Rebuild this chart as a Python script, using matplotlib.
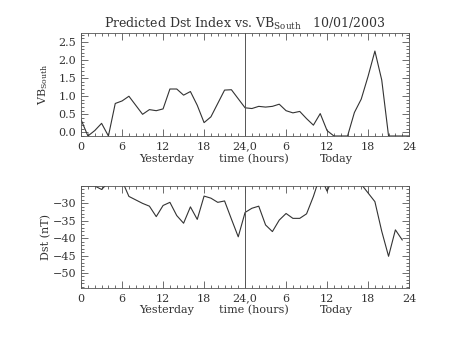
import matplotlib
matplotlib.use("Agg")
import matplotlib.pyplot as plt
import numpy as np
from matplotlib.ticker import MultipleLocator, FixedLocator

plt.rcParams['font.family'] = ['DejaVu Serif']
plt.rcParams['mathtext.fontset'] = 'dejavuserif'

# Hours over two days (0..48)
hours_vb = list(range(49))
vb_south = [0.35, -0.1, 0.05, 0.25, -0.1, 0.8, 0.87, 1.0, 0.75, 0.5, 0.63, 0.6, 0.65,
            1.2, 1.2, 1.03, 1.13, 0.75, 0.27, 0.43, 0.8, 1.17, 1.18, 0.93, 0.68,
            0.66, 0.72, 0.7, 0.72, 0.78, 0.6, 0.54, 0.58, 0.38, 0.2, 0.52, 0.05,
            -0.1, -0.1, -0.1, 0.55, 0.92, 1.55, 2.25, 1.45, -0.1, -0.1, -0.1, -0.1]

hours_dst = list(range(48))
dst = [-25.0, -25.0, -25.0, -26.0, -24.0, -22.0, -23.5, -28.0, -29.0, -30.0, -30.8, -33.8,
       -30.6, -29.7, -33.5, -35.7, -31.0, -34.6, -27.9, -28.5, -29.7, -29.3, -34.5, -39.6,
       -32.6, -31.4, -30.8, -36.2, -38.1, -34.8, -32.9, -34.3, -34.3, -33.0, -28.0, -22.0,
       -26.5, -22.0, -21.0, -21.0, -22.0, -24.5, -27.0, -29.5, -38.0, -45.2, -37.6, -40.5]

xtick_pos = [0, 6, 12, 18, 24, 30, 36, 42, 48]
xtick_labels = ['0', '6', '12', '18', '24,0', '6', '12', '18', '24']
day_labels = ['Yesterday', 'time (hours)', 'Today']
day_pos = [12.5, 25.3, 37.3]

txt = '#333333'
fig = plt.figure(figsize=(4.53, 3.40), dpi=100)
ax1 = fig.add_axes([0.179, 0.600, 0.724, 0.303])
ax2 = fig.add_axes([0.179, 0.153, 0.724, 0.300])


def style(ax):
    ax.set_xlim(0, 48)
    ax.xaxis.set_major_locator(FixedLocator(xtick_pos))
    ax.set_xticklabels(xtick_labels)
    ax.xaxis.set_minor_locator(MultipleLocator(1))
    ax.tick_params(which='both', direction='in', top=True, right=True,
                   colors='#555555', labelcolor=txt, labelsize=8, width=0.6)
    ax.tick_params(which='major', length=5)
    ax.tick_params(which='minor', length=2.5)
    ax.tick_params(axis='x', pad=4)
    for s in ax.spines.values():
        s.set_linewidth(0.6)
        s.set_color('#555555')
    ax.axvline(24, color='#555555', lw=0.7)
    for lab, p in zip(day_labels, day_pos):
        ax.text(p, -0.17, lab, transform=ax.get_xaxis_transform(), ha='center',
                va='top', fontsize=8, color=txt)


ax1.plot(hours_vb, vb_south, color='#333333', lw=0.8)
ax1.set_ylim(-0.1, 2.75)
ax1.yaxis.set_major_locator(MultipleLocator(0.5))
ax1.yaxis.set_minor_locator(MultipleLocator(0.1))
ax1.yaxis.set_major_formatter(matplotlib.ticker.FormatStrFormatter('%.1f'))
style(ax1)
ax1.set_ylabel(r'VB$_{\mathrm{South}}$', fontsize=8, color=txt, labelpad=6)
ax1.set_title(r'Predicted Dst Index vs. VB$_{\mathrm{South}}$   10/01/2003',
              fontsize=9, color=txt, pad=4)

ax2.plot(hours_dst, dst, color='#333333', lw=0.8)
ax2.set_ylim(-54.3, -25.0)
ax2.yaxis.set_major_locator(FixedLocator([-30, -35, -40, -45, -50]))
ax2.yaxis.set_minor_locator(MultipleLocator(1))
style(ax2)
ax2.set_yticklabels(['\u221230', '\u221235', '\u221240', '\u221245', '\u221250'])
ax2.set_ylabel('Dst (nT)', fontsize=8, color=txt, labelpad=1)

fig.savefig('out.png', dpi=100)
